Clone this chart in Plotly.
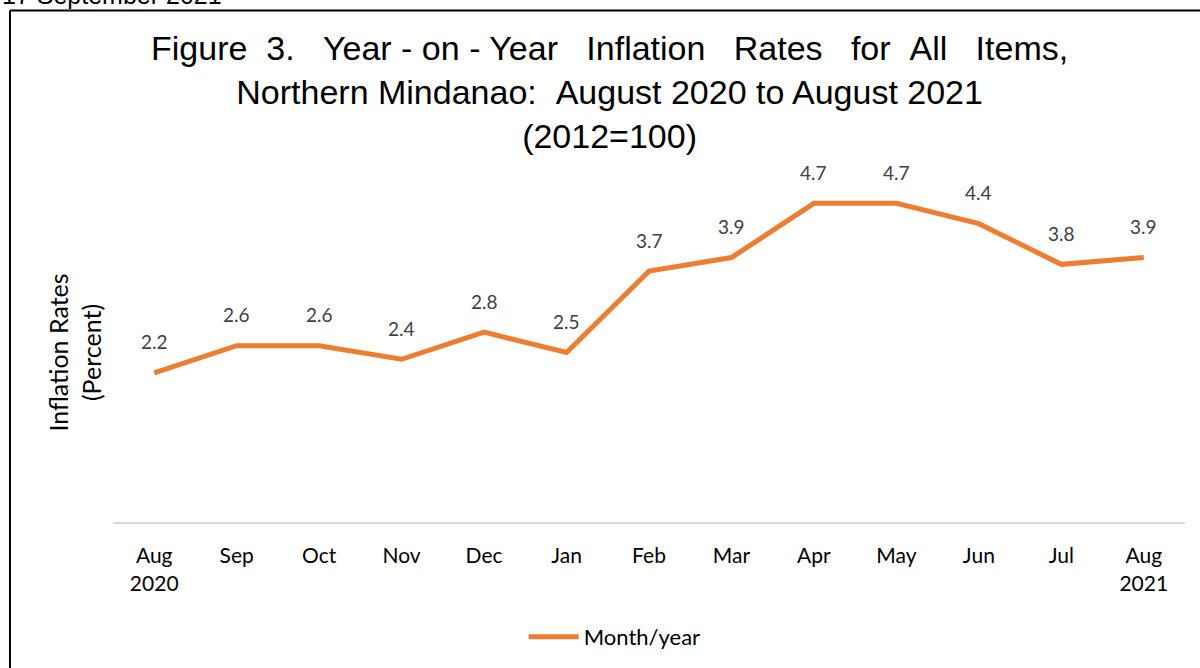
import plotly.graph_objects as go

# Year-on-year inflation, Northern Mindanao (2012=100)
months = ['Aug<br>2020', 'Sep', 'Oct', 'Nov', 'Dec', 'Jan', 'Feb',
          'Mar', 'Apr', 'May', 'Jun', 'Jul', 'Aug<br>2021']
rates = [2.2, 2.6, 2.6, 2.4, 2.8, 2.5, 3.7, 3.9, 4.7, 4.7, 4.4, 3.8, 3.9]

orange = '#ED7D31'
nb = '\u00a0'
title_text = ('Figure' + nb * 2 + '3.' + nb * 3 + 'Year - on - Year' + nb * 3 + 'Inflation' + nb * 3
              + 'Rates' + nb * 3 + 'for' + nb * 2 + 'All' + nb * 3 + 'Items,<br>'
              + 'Northern Mindanao:' + nb * 2 + 'August 2020 to August 2021<br>(2012=100)')

x_idx = list(range(len(months)))

fig = go.Figure()
fig.add_trace(go.Scatter(x=x_idx, y=rates, mode='lines', name='Month/year',
                         line=dict(color=orange, width=5), hoverinfo='y'))

# value labels above each point
for i, v in zip(x_idx, rates):
    fig.add_annotation(x=i, y=v, text=f'{v:.1f}', showarrow=False,
                       yanchor='middle', yshift=31,
                       font=dict(family='Lato', size=19, color='#404040'))

# chart title
fig.add_annotation(xref='paper', yref='paper', x=0.4636, y=1.076,
                   xanchor='center', yanchor='bottom', text=title_text,
                   showarrow=False, align='center',
                   font=dict(family='Liberation Sans, Arial', size=34, color='black'))

# date line cut at the top of the page
fig.add_annotation(xref='paper', yref='paper', x=-0.1054, y=1.5088,
                   xanchor='left', yanchor='bottom', text='17 September 2021',
                   showarrow=False,
                   font=dict(family='Liberation Sans, Arial', size=25, color='black'))

# page frame (left and top edges)
fig.add_shape(type='line', xref='paper', yref='paper', x0=-0.0961, x1=-0.0961,
              y0=-0.5, y1=1.5088, line=dict(color='black', width=2))
fig.add_shape(type='line', xref='paper', yref='paper', x0=-0.0961, x1=1.02,
              y0=1.5088, y1=1.5088, line=dict(color='black', width=2))

fig.update_layout(
    width=1200, height=668,
    margin=dict(l=113, r=15, t=183, b=145),
    paper_bgcolor='white', plot_bgcolor='white',
    showlegend=True,
    legend=dict(orientation='h', x=0.468, y=-0.335, xanchor='center', yanchor='middle',
                font=dict(family='Lato', size=22, color='black'), itemwidth=50),
    xaxis=dict(tickmode='array', tickvals=x_idx, ticktext=months,
               range=[-0.5, 12.5], showgrid=False, zeroline=False,
               showline=True, linecolor='#D9D9D9', linewidth=2,
               ticks='', ticklabelstandoff=14,
               tickfont=dict(family='Lato', size=21, color='black')),
    yaxis=dict(range=[0, 5], showgrid=False, zeroline=False, showline=False,
               showticklabels=False, ticks='',
               title=dict(text='Inflation Rates<br>(Percent)', standoff=3,
                          font=dict(family='Lato', size=25, color='black'))),
)

fig.write_html('out.html', config={'displayModeBar': False},
               post_script="document.body.style.margin='0';")
